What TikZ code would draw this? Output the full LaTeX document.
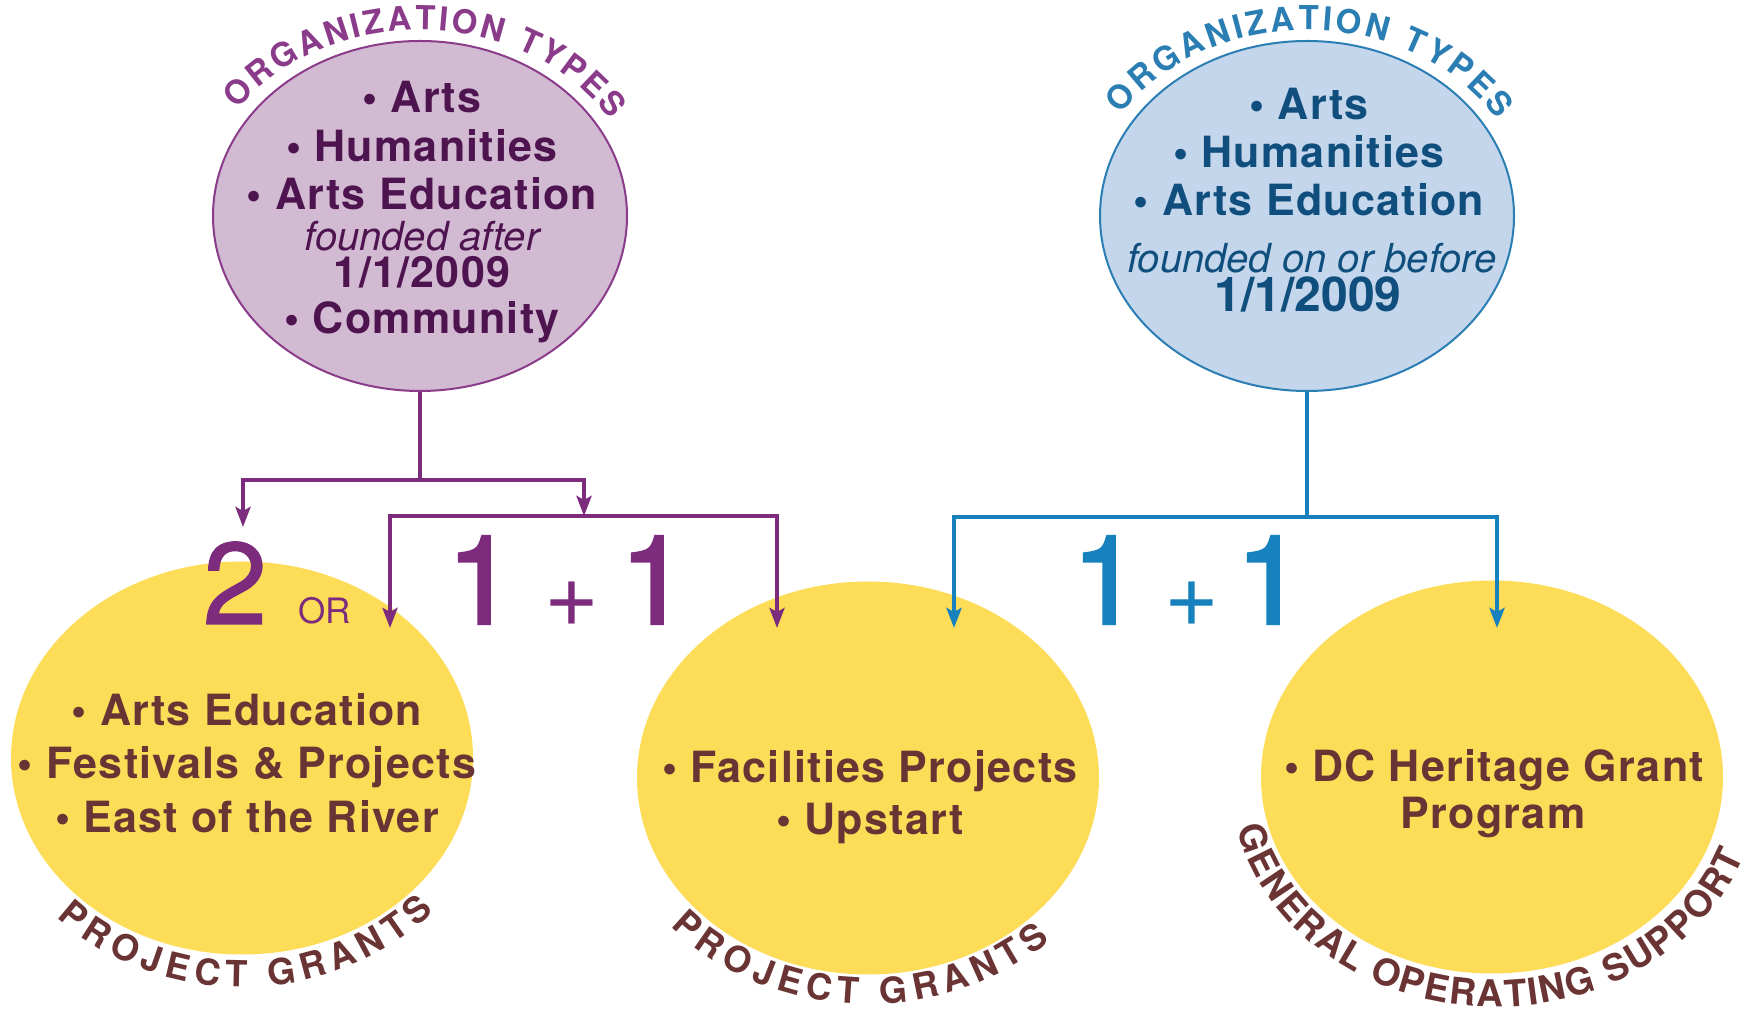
\documentclass[tikz,border=0pt]{standalone}
\usepackage{fontspec}
\setmainfont{TeX Gyre Heros}
\usetikzlibrary{shapes.geometric,arrows.meta,decorations.text}
\definecolor{pfill}{HTML}{D3BAD3}
\definecolor{pline}{HTML}{8A3C8A}
\definecolor{ptext}{HTML}{4E1450}
\definecolor{parr}{HTML}{7D2C7D}
\definecolor{bfill}{HTML}{C3D6EB}
\definecolor{bline}{HTML}{2B7EB3}
\definecolor{btext}{HTML}{0F4E7D}
\definecolor{barr}{HTML}{1681BD}
\definecolor{yfill}{HTML}{FDDC58}
\definecolor{brown}{HTML}{6A3434}
\begin{document}
\begin{tikzpicture}[x=1pt,y=1pt,
  orgcircle/.style={ellipse,inner sep=0pt,minimum width=414pt,minimum height=350pt,line width=2pt},
  grantcircle/.style={ellipse,inner sep=0pt,minimum width=462pt,minimum height=393pt,fill=yfill},
  bul/.style={anchor=base,inner sep=0pt,font=\fontsize{43}{48}\selectfont\bfseries\addfontfeature{LetterSpace=3}},
  itl/.style={anchor=base,inner sep=0pt,font=\fontsize{40}{44}\selectfont\itshape},
  bignum/.style={anchor=base,inner sep=0pt,font=\fontsize{124}{124}\selectfont\addfontfeature{FakeBold=2}},
  plusnum/.style={inner sep=0pt,font=\fontsize{94}{94}\selectfont},
  pconn/.style={draw=parr,line width=4pt},
  parrow/.style={pconn,-{Stealth[length=20pt,width=15pt,inset=4pt]}},
  bconn/.style={draw=barr,line width=4pt},
  barrow/.style={bconn,-{Stealth[length=20pt,width=15pt,inset=4pt]}}
]
\useasboundingbox (0,0) rectangle (1758,1011);
\fill[white] (0,0) rectangle (1758,1011);

% organisation ellipses
\node[orgcircle,fill=pfill,draw=pline] (pe) at (420,795) {};
\node[orgcircle,fill=bfill,draw=bline] (be) at (1307,795) {};

% grant ellipses
\node[grantcircle] (y1) at (242,253) {};
\node[grantcircle] (y2) at (868,233) {};
\node[grantcircle] (y3) at (1492,234) {};

% purple ellipse text
\begin{scope}[text=ptext]
\node[bul] (pa1) at (422,898) {\textbullet\ Arts};
\node[bul] (pa2) at (422,849) {\textbullet\ Humanities};
\node[bul] (pa3) at (422,801) {\textbullet\ Arts Education};
\node[itl] (pa4) at (422,760) {founded after};
\node[bul] (pa5) at (422,723) {1/1/2009};
\node[bul] (pa6) at (422,677) {\textbullet\ Community};
\end{scope}

% blue ellipse text
\begin{scope}[text=btext]
\node[bul] (ba1) at (1309,891) {\textbullet\ Arts};
\node[bul] (ba2) at (1309,843) {\textbullet\ Humanities};
\node[bul] (ba3) at (1309,795) {\textbullet\ Arts Education};
\node[itl] (ba4) at (1312,738) {founded on or before};
\node[bul,font=\fontsize{48}{52}\selectfont\bfseries] (ba5) at (1308,699) {1/1/2009};
\end{scope}

% curved titles
\path[decorate,decoration={text along path,
  text={|\fontsize{33}{33}\selectfont\bfseries\color{pline}|ORGANIZATION TYPES},
  text align={fit to path}}]
  ([shift={(145:222pt and 186pt)}]pe.center) arc[start angle=145,end angle=31,x radius=222pt,y radius=186pt];
\path[decorate,decoration={text along path,
  text={|\fontsize{33}{33}\selectfont\bfseries\color{bline}|ORGANIZATION TYPES},
  text align={fit to path}}]
  ([shift={(147:222pt and 186pt)}]be.center) arc[start angle=147,end angle=31,x radius=222pt,y radius=186pt];

% grant texts
\begin{scope}[text=brown]
\node[bul] (g1a) at (247,285) {\textbullet\ Arts Education};
\node[bul] (g1b) at (247,232) {\textbullet\ Festivals \& Projects};
\node[bul] (g1c) at (247,178) {\textbullet\ East of the River};
\node[bul] (g2a) at (870,228) {\textbullet\ Facilities Projects};
\node[bul] (g2b) at (870,176) {\textbullet\ Upstart};
\node[bul] (g3a) at (1494,229) {\textbullet\ DC Heritage Grant};
\node[bul] (g3b) at (1493,182) {Program};
\end{scope}

\path[decorate,decoration={text along path,
  text={|\fontsize{36}{36}\selectfont\bfseries\color{brown}|PROJECT GRANTS},
  text align={fit to path}}]
  ([shift={(224:258pt and 229pt)}]y1.center) arc[start angle=224,end angle=318,x radius=258pt,y radius=229pt];
\path[decorate,decoration={text along path,
  text={|\fontsize{36}{36}\selectfont\bfseries\color{brown}|PROJECT GRANTS},
  text align={fit to path}}]
  ([shift={(221:262pt and 226pt)}]y2.center) arc[start angle=221,end angle=314,x radius=262pt,y radius=226pt];
\path[decorate,decoration={text along path,
  text={|\fontsize{37}{37}\selectfont\bfseries\color{brown}|GENERAL OPERATING SUPPORT},
  text align={fit to path}}]
  ([xshift=3pt,shift={(193:265pt and 230pt)}]y3.center) arc[start angle=193,end angle=340,x radius=265pt,y radius=230pt];

% connectors purple
\coordinate (pj) at (420,531);
\coordinate (plt) at (243,484);
\coordinate (prt) at (584,495);
\coordinate (qlt) at (390,383);
\coordinate (qrt) at (777,383);
\draw[pconn] (pe.south) -- (pj);
\draw[parrow] (pj) -| (plt);
\draw[parrow] (pj) -| (prt);
\draw[parrow] (prt) -| (qlt);
\draw[parrow] (prt) -| (qrt);

% connectors blue
\coordinate (bj) at (1307,494);
\coordinate (blt) at (954,383);
\coordinate (brt) at (1497,383);
\draw[bconn] (be.south) -- (bj);
\draw[barrow] (bj) -| (blt);
\draw[barrow] (bj) -| (brt);

% numbers
\begin{scope}[text=parr]
\node[bignum,font=\fontsize{116}{116}\selectfont\addfontfeature{FakeBold=1}] (two) at (235,387) {2};
\node[anchor=base,inner sep=0pt,font=\fontsize{35}{35}\selectfont] (or) at (325,387) {OR};
\node[bignum] (p1a) at (481,387) {1};
\node[plusnum] (pplus) at (572,407) {+};
\node[bignum] (p1b) at (654,387) {1};
\end{scope}
\begin{scope}[text=barr]
\node[bignum] (b1a) at (1106,387) {1};
\node[plusnum] (bplus) at (1192,407) {+};
\node[bignum] (b1b) at (1270,387) {1};
\end{scope}
\end{tikzpicture}
\end{document}
